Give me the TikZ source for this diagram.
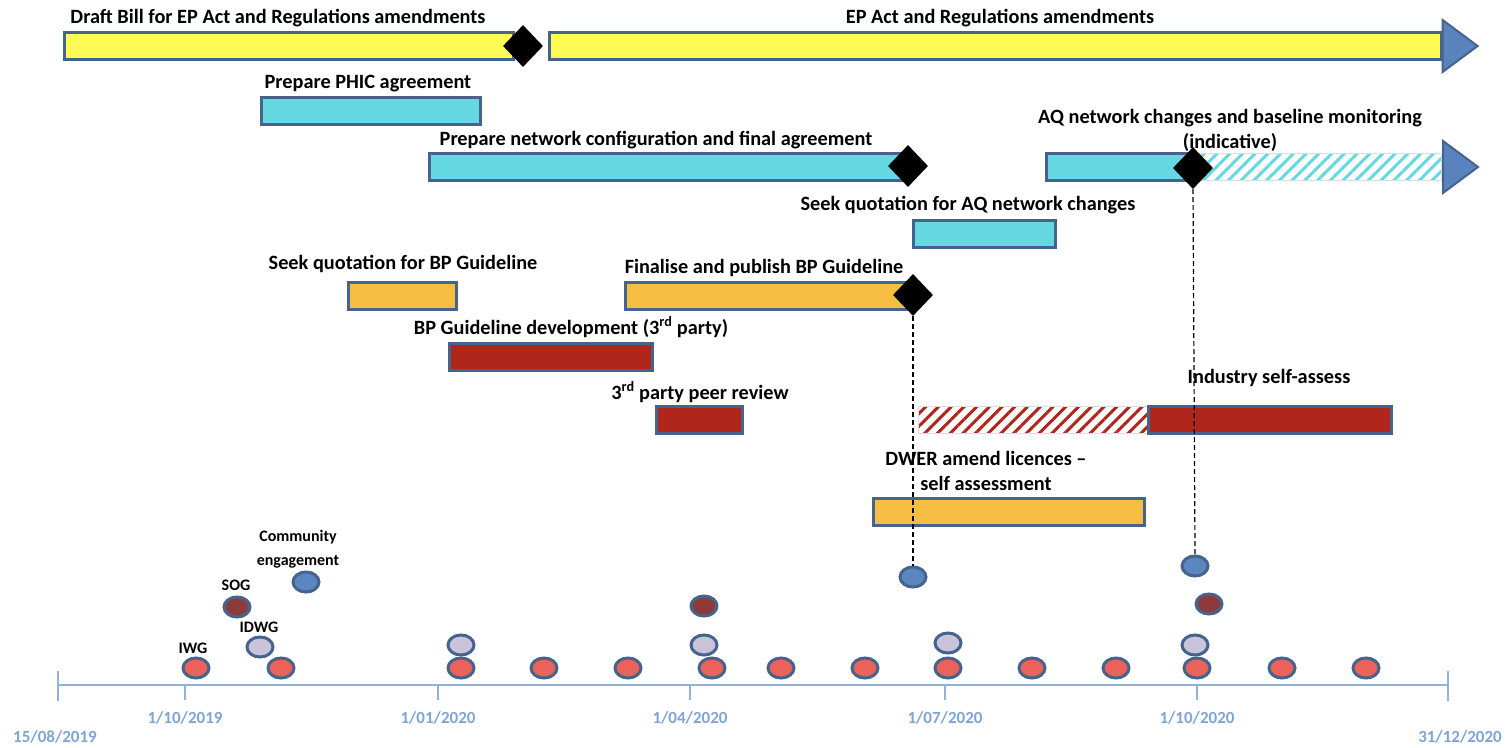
\documentclass[tikz,border=0pt]{standalone}
\usepackage{fontspec}
\setmainfont{Carlito}
\usetikzlibrary{shapes.geometric,patterns.meta,calc}
\definecolor{bord}{HTML}{44648E}
\definecolor{ylw}{HTML}{FFFB55}
\definecolor{cyn}{HTML}{66D8E2}
\definecolor{org}{HTML}{F5BE42}
\definecolor{dred}{HTML}{B0261A}
\definecolor{headblue}{HTML}{5A83BE}
\definecolor{axisblue}{HTML}{8FB2DE}
\definecolor{axtext}{HTML}{7EA4D6}
\definecolor{dotred}{HTML}{EA6259}
\definecolor{dotlav}{HTML}{CAC4DA}
\definecolor{dotmar}{HTML}{8C3A3A}
\definecolor{dotblue}{HTML}{5B86C0}
\definecolor{hatchedge}{HTML}{D7DEE8}
\begin{document}
\begin{tikzpicture}[x=1pt,y=-1pt,
  bar/.style={draw=bord, line width=2.6pt, minimum height=27pt, inner sep=0pt, anchor=west},
  hatchbar/.style={draw=hatchedge, line width=1.2pt, minimum height=27pt, inner sep=0pt, anchor=west},
  lbl/.style={font=\fontsize{20.3}{25}\selectfont\bfseries, inner sep=0pt, align=center},
  slbl/.style={font=\fontsize{16}{24}\selectfont\bfseries, inner sep=0pt, align=center},
  axl/.style={font=\fontsize{17}{18}\selectfont\bfseries, text=axtext, inner sep=0pt},
  ms/.style={diamond, fill=black, minimum width=40pt, minimum height=42pt, inner sep=0pt},
  dot/.style={ellipse, draw=bord, line width=3pt, minimum width=26pt, minimum height=20pt, inner sep=0pt},
  head/.style={draw=bord, line width=2pt, fill=headblue, line join=miter},
  guide/.style={dashed, dash pattern=on 5pt off 3pt, line width=1.2pt, black},
  axisline/.style={draw=axisblue, line width=1.3pt}]
\useasboundingbox (0,0) rectangle (1506,747);

% ---- row 1
\node[lbl] (t1) at (278,18) {Draft Bill for EP Act and Regulations amendments};
\node[bar, fill=ylw, minimum width=449pt] (b1) at (63,46) {};
\node[lbl] (t2) at (1000,18) {EP Act and Regulations amendments};
\node[bar, fill=ylw, minimum width=892pt] (b2) at (548,46) {};
\draw[head] ($(b2.east)+(0,-26)$) -- ($(b2.east)+(35,0)$) -- ($(b2.east)+(0,26)$) -- cycle;
\node[ms] (m1) at (523,46) {};

% ---- row 2
\node[lbl] (t3) at (368,84) {Prepare PHIC agreement};
\node[bar, fill=cyn, minimum width=219pt] (b3) at (260,111) {};

% ---- row 3
\node[lbl] (t4) at (656,140) {Prepare network configuration and final agreement};
\node[bar, fill=cyn, minimum width=479pt] (b4) at (428,167) {};
\node[ms] (m2) at (908,166) {};
\node[hatchbar, pattern={Lines[angle=45,distance=9pt,line width=3pt]}, pattern color=cyn, minimum width=247pt] (h1) at (1193,167) {};
\node[bar, fill=cyn, minimum width=148pt] (b5) at (1045,167) {};
\draw[head] ($(h1.east)+(0,-26)$) -- ($(h1.east)+(35,0)$) -- ($(h1.east)+(0,26)$) -- cycle;
\node[lbl] (t5) at (1230,130) {AQ network changes and baseline monitoring\\(indicative)};
\node[ms] (m3) at (1193,168) {};

% ---- row 4
\node[lbl] (t6) at (968,205) {Seek quotation for AQ network changes};
\node[bar, fill=cyn, minimum width=142pt] (b6) at (912,234) {};

% ---- row 5
\node[lbl] (t7) at (403,264) {Seek quotation for BP Guideline};
\node[bar, fill=org, minimum width=108pt] (b7) at (347,296) {};
\node[lbl] (t8) at (764,268) {Finalise and publish BP Guideline};
\node[bar, fill=org, minimum width=288pt] (b8) at (624,296) {};
\node[ms] (m4) at (913,295) {};

% ---- row 6
\node[lbl] (t9) at (571,327) {BP Guideline development (3\textsuperscript{rd} party)};
\node[bar, fill=dred, minimum width=203pt] (b9) at (448,357) {};

% ---- row 7
\node[lbl] (t10) at (700,392) {3\textsuperscript{rd} party peer review};
\node[bar, fill=dred, minimum width=86pt] (b10) at (655,420) {};
\node[hatchbar, pattern={Lines[angle=45,distance=9pt,line width=3pt]}, pattern color=dred, minimum width=229pt] (h2) at (918,420) {};
\node[bar, fill=dred, minimum width=243pt] (b11) at (1147,420) {};
\node[lbl] (t11) at (1269,378) {Industry self-assess};

% ---- row 8
\node[lbl] (t12) at (986,471) {DWER amend licences --\\self assessment};
\node[bar, fill=org, minimum width=271pt] (b12) at (872,512) {};

% ---- meeting dots
\node[slbl] (c1) at (298,549) {Community\\engagement};
\node[slbl] (c2) at (236,585) {SOG};
\node[slbl] (c3) at (259,627) {IDWG};
\node[slbl] (c4) at (193,648) {IWG};

\node[dot, fill=dotblue] (u1) at (306,582) {};
\node[dot, fill=dotblue] (u2) at (913,577) {};
\node[dot, fill=dotblue] (u3) at (1195,566) {};

\node[dot, fill=dotmar] (s1) at (237,607) {};
\node[dot, fill=dotmar] (s2) at (704,606) {};
\node[dot, fill=dotmar] (s3) at (1209,604) {};

\node[dot, fill=dotlav] (l1) at (260,647) {};
\node[dot, fill=dotlav] (l2) at (461,645) {};
\node[dot, fill=dotlav] (l3) at (704,645) {};
\node[dot, fill=dotlav] (l4) at (948,643) {};
\node[dot, fill=dotlav] (l5) at (1195,645) {};

\foreach \x [count=\i] in {196,281,461,544,628,712,781,865,948,1032,1116,1197,1282,1366}
  \node[dot, fill=dotred] (r\i) at (\x,668) {};

% ---- dashed guides
\draw[guide] (m4.south) -- (u2.north);
\draw[guide] (m3.south) -- (u3.north);

% ---- time axis
\coordinate (a0) at (58,685);
\coordinate (a1) at (1448,685);
\draw[axisline] (a0) -- (a1);
\draw[axisline] ($(a0)+(0,-14)$) -- ($(a0)+(0,16)$);
\draw[axisline] ($(a1)+(0,-14)$) -- ($(a1)+(0,16)$);
\foreach \x in {185,438,690,945,1197}
  \draw[axisline] (\x,685) -- (\x,700);
\node[axl] (d0) at (55,737) {15/08/2019};
\node[axl] (d1) at (185,718) {1/10/2019};
\node[axl] (d2) at (438,718) {1/01/2020};
\node[axl] (d3) at (690,718) {1/04/2020};
\node[axl] (d4) at (945,718) {1/07/2020};
\node[axl] (d5) at (1197,718) {1/10/2020};
\node[axl] (d6) at (1460,737) {31/12/2020};
\end{tikzpicture}
\end{document}
